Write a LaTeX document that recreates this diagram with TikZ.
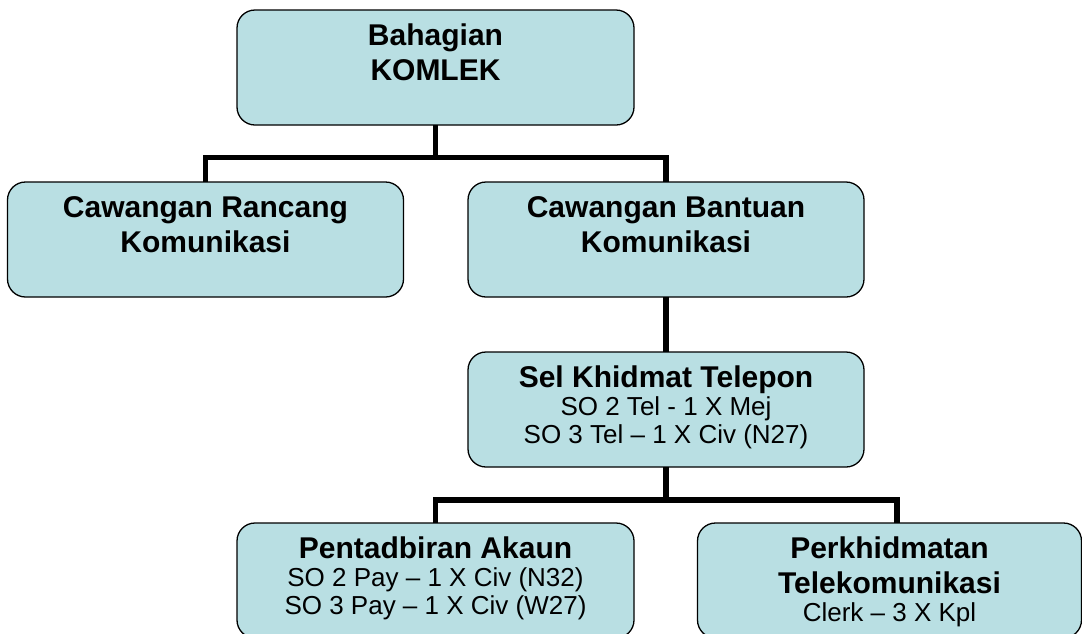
\documentclass[tikz,border=0pt]{standalone}
\usepackage{fontspec}
\setmainfont{Liberation Sans}
\definecolor{boxfill}{RGB}{185,223,227}
\tikzset{
  orgbox/.style={draw=black, line width=1.3pt, fill=boxfill, rounded corners=18pt, inner sep=0pt, outer sep=0pt},
  conn/.style={draw=black, line width=5.5pt, line join=miter}
}
\newcommand{\boxtext}[3]{\parbox[c][#2][t]{#1}{\centering #3}}
\newcommand{\tline}[1]{{\fontsize{30}{35}\selectfont\bfseries #1\par}}
\newcommand{\rline}[1]{{\fontsize{26}{28}\selectfont #1\par}}
\newcommand{\firstrule}{\rule{0pt}{35pt}}
\begin{document}
\begin{tikzpicture}[x=1pt,y=-1pt]
\clip (0,0) rectangle (1082,633);
\fill[white] (0,0) rectangle (1082,633);
% connectors (drawn under boxes)
\coordinate (j1) at (435.5,157.5);
\coordinate (j3) at (897,500);
\node[orgbox] (top) at (435.5,67.5) {\boxtext{397pt}{115pt}{\tline{\firstrule Bahagian}\tline{KOMLEK}}};
\node[orgbox] (left) at (205.5,239.5) {\boxtext{396pt}{115pt}{\tline{\firstrule Cawangan Rancang}\tline{Komunikasi}}};
\node[orgbox] (right) at (666,239.5) {\boxtext{396pt}{115pt}{\tline{\firstrule Cawangan Bantuan}\tline{Komunikasi}}};
\node[orgbox] (sel) at (666,409.5) {\boxtext{396pt}{115pt}{\tline{\firstrule Sel Khidmat Telepon}\rline{SO 2 Tel - 1 X Mej}\rline{SO 3 Tel – 1 X Civ (N27)}}};
\node[orgbox] (pent) at (435.5,580.5) {\boxtext{397pt}{115pt}{\tline{\firstrule Pentadbiran Akaun}\rline{SO 2 Pay – 1 X Civ (N32)}\rline{SO 3 Pay – 1 X Civ (W27)}}};
\node[orgbox] (perk) at (889.5,580.5) {\boxtext{384pt}{115pt}{\tline{\firstrule Perkhidmatan}\tline{Telekomunikasi}\rline{Clerk – 3 X Kpl}}};
\draw[conn] (top.south) -- (j1);
\draw[conn] (left.north) |- (j1) -| (right.north);
\draw[conn] (right.south) -- (sel.north);
\draw[conn] (pent.north) |- (j3) -- (j3 |- perk.north);
\draw[conn] (sel.south) -- (sel.south |- j3);
\end{tikzpicture}
\end{document}
